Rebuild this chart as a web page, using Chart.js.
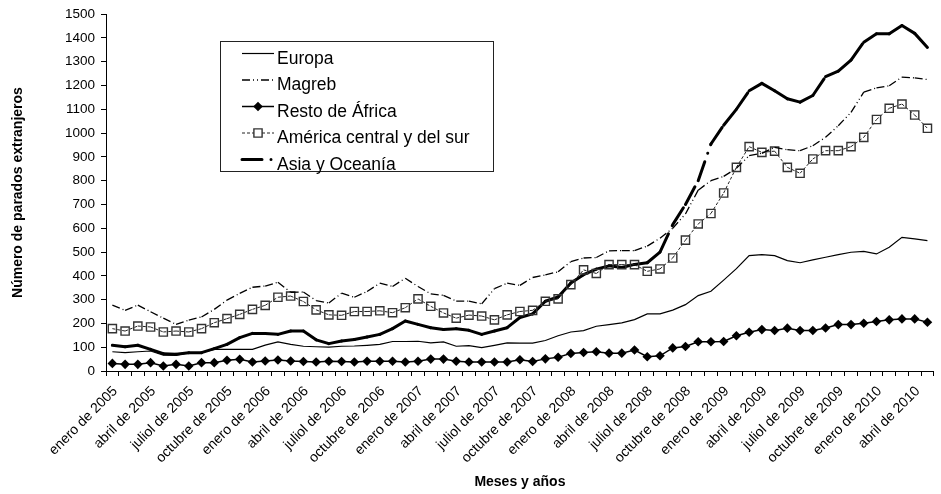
<!DOCTYPE html>
<html>
<head>
<meta charset="utf-8">
<script src="https://cdn.jsdelivr.net/npm/chart.js@4"></script>
<style>
  html, body { margin: 0; padding: 0; background: #fff; }
  canvas { display: block; }
</style>
</head>
<body>
<canvas id="grafico" width="941" height="494"></canvas>
<script>
// meses: enero de 2005 .. mayo de 2010 (65 puntos)
const nombresMes = ['enero', 'febrero', 'marzo', 'abril', 'mayo', 'junio', 'juliol', 'agosto', 'septiembre', 'octubre', 'noviembre', 'diciembre'];
const anios = [2005, 2006, 2007, 2008, 2009, 2010];
const numMeses = 65;

const europa = [81, 77, 81, 84, 67, 66, 77, 77, 91, 91, 91, 91, 109, 122, 112, 104, 102, 100, 104, 105,
  108, 112, 124, 124, 125, 118, 122, 104, 107, 98, 108, 118, 117, 117, 128, 148, 164, 170, 188, 195,
  202, 216, 240, 240, 256, 279, 317, 335, 382, 430, 485, 489, 485, 464, 455, 467, 478, 489, 499, 503,
  492, 520, 562, 555, 548];

const magreb = [277, 255, 277, 249, 222, 196, 214, 227, 259, 298, 326, 352, 357, 373, 331, 332, 296, 286, 327, 310,
  334, 369, 355, 390, 355, 324, 318, 294, 294, 282, 346, 369, 360, 393, 404, 417, 460, 475, 477, 505,
  506, 506, 525, 558, 600, 660, 760, 800, 818, 852, 905, 915, 940, 930, 926, 947, 982, 1031, 1087, 1172,
  1190, 1199, 1235, 1232, 1225];

const restoAfrica = [32, 28, 28, 35, 21, 28, 21, 35, 35, 45, 49, 38, 42, 46, 42, 40, 38, 41, 40, 38,
  41, 41, 41, 38, 41, 50, 50, 41, 38, 38, 38, 38, 47, 40, 51, 58, 74, 78, 81, 75,
  75, 88, 60, 64, 97, 103, 123, 123, 124, 148, 163, 174, 170, 180, 170, 170, 181, 195, 195, 201,
  208, 215, 219, 219, 205];

const america = [178, 168, 189, 185, 164, 168, 164, 178, 203, 220, 238, 259, 276, 310, 315, 292, 257, 236, 234, 250,
  250, 253, 245, 266, 303, 272, 244, 222, 235, 231, 215, 236, 250, 255, 293, 303, 363, 425, 410, 447,
  447, 447, 419, 429, 475, 550, 618, 662, 748, 856, 943, 919, 924, 856, 831, 891, 926, 926, 943, 982,
  1057, 1104, 1122, 1076, 1020];

const asia = [108, 102, 108, 91, 73, 70, 77, 77, 94, 112, 140, 158, 158, 154, 168, 168, 131, 115, 126, 132,
  143, 154, 178, 210, 196, 182, 174, 178, 171, 154, 168, 182, 225, 240, 293, 311, 370, 405, 428, 442,
  435, 448, 455, 500, 615, 700, 800, 954, 1033, 1100, 1178, 1209, 1178, 1144, 1130, 1158, 1237, 1260, 1307, 1382,
  1417, 1417, 1452, 1419, 1360];

const meses = [];
for (let i = 0; i < numMeses; i++) {
  meses.push(nombresMes[i % 12] + ' de ' + anios[Math.floor(i / 12)]);
}

const fuente = '"Liberation Sans", Arial, sans-serif';
Chart.defaults.font.family = fuente;
Chart.defaults.color = '#000';

// como en Excel, el patron de trazos vuelve a empezar en cada tramo
const reiniciarTrazo = {
  borderDashOffset: ctx => (ctx.p0DataIndex % 2) * 0.001
};

// leyenda con recuadro dentro del grafico
const leyenda = {
  id: 'leyenda',
  afterDraw(chart) {
    const ctx = chart.ctx;
    ctx.save();
    ctx.strokeStyle = '#222';
    ctx.lineWidth = 1;
    ctx.setLineDash([]);
    ctx.strokeRect(220.5, 41.5, 273, 130);
    chart.data.datasets.forEach((ds, i) => {
      const y = 53.5 + i * 26.5;
      ctx.beginPath();
      ctx.setLineDash(ds.borderDash || []);
      ctx.lineWidth = ds.borderWidth;
      ctx.strokeStyle = ds.borderColor;
      ctx.lineCap = ds.borderCapStyle || 'butt';
      ctx.moveTo(242, y);
      ctx.lineTo(274, y);
      ctx.stroke();
      ctx.setLineDash([]);
      if (ds.pointRadius > 0) {
        const r = ds.pointRadius;
        ctx.beginPath();
        if (ds.pointStyle === 'rectRot') {
          ctx.moveTo(258 - r, y); ctx.lineTo(258, y - r); ctx.lineTo(258 + r, y); ctx.lineTo(258, y + r);
          ctx.closePath();
          ctx.fillStyle = ds.pointBackgroundColor;
          ctx.fill();
        } else {
          const s = r * Math.SQRT1_2;
          ctx.rect(258 - s, y - s, 2 * s, 2 * s);
          ctx.fillStyle = '#fff';
          ctx.fill();
          ctx.lineWidth = ds.pointBorderWidth;
          ctx.strokeStyle = ds.pointBorderColor;
          ctx.stroke();
        }
      }
      ctx.fillStyle = '#000';
      ctx.font = '17.5px ' + fuente;
      ctx.textBaseline = 'alphabetic';
      ctx.fillText(ds.label, 277, y + 10);
    });
    ctx.restore();
  }
};

new Chart(document.getElementById('grafico'), {
  type: 'line',
  data: {
    labels: meses,
    datasets: [{
      label: 'Europa',
      data: europa,
      borderColor: '#000',
      borderWidth: 1.2,
      pointRadius: 0
    }, {
      label: 'Magreb',
      data: magreb,
      borderColor: '#000',
      borderWidth: 1.3,
      borderDash: [8, 3, 1, 3, 1, 3],
      segment: reiniciarTrazo,
      pointRadius: 0
    }, {
      label: 'Resto de África',
      data: restoAfrica,
      borderColor: '#000',
      borderWidth: 1.5,
      pointStyle: 'rectRot',
      pointRadius: 4.8,
      pointBackgroundColor: '#000',
      pointBorderColor: '#000',
      pointBorderWidth: 0
    }, {
      label: 'América central y del sur',
      data: america,
      borderColor: '#222',
      borderWidth: 1,
      borderDash: [3, 2],
      segment: reiniciarTrazo,
      pointStyle: 'rect',
      pointRadius: 5.8,
      pointBackgroundColor: 'rgba(255,255,255,0)',
      pointBorderColor: '#333',
      pointBorderWidth: 1.4
    }, {
      label: 'Asia y Oceanía',
      data: asia,
      borderColor: '#000',
      borderWidth: 3,
      borderDash: [20, 9, 0.01, 9],
      borderCapStyle: 'round',
      segment: reiniciarTrazo,
      pointRadius: 0
    }]
  },
  options: {
    responsive: false,
    animation: false,
    layout: { padding: { top: 14, right: 0, bottom: 0, left: 0 } },
    plugins: {
      legend: { display: false },
      tooltip: { enabled: false }
    },
    elements: { line: { tension: 0 } },
    scales: {
      x: {
        offset: true,
        grid: { offset: true, drawOnChartArea: false, drawTicks: true, tickLength: 5, color: '#000' },
        border: { color: '#000', width: 1 },
        ticks: {
          autoSkip: false,
          minRotation: 45,
          maxRotation: 45,
          padding: 7,
          labelOffset: 3,
          font: { size: 14 },
          callback: function(val, i) { return i % 3 === 0 ? this.getLabelForValue(val) : ''; }
        },
        title: { display: true, text: 'Meses y años', font: { size: 14, weight: 'bold' }, padding: { top: 0, bottom: 3 } },
        afterFit: scale => {
          scale.height = 123;
          scale.paddingLeft = 0;
          scale.paddingRight = 0;
        }
      },
      y: {
        min: 0,
        max: 1500,
        grid: { drawOnChartArea: false, drawTicks: true, tickLength: 5, color: '#000' },
        border: { color: '#000', width: 1 },
        ticks: { stepSize: 100, autoSkip: false, padding: 6, font: { size: 13.5 }, callback: v => String(v) },
        title: { display: true, text: 'Número de parados extranjeros', font: { size: 14, weight: 'bold' }, padding: { top: 10, bottom: 0 } },
        afterFit: scale => { scale.width = 106; }
      }
    }
  },
  plugins: [leyenda]
});
</script>
</body>
</html>
